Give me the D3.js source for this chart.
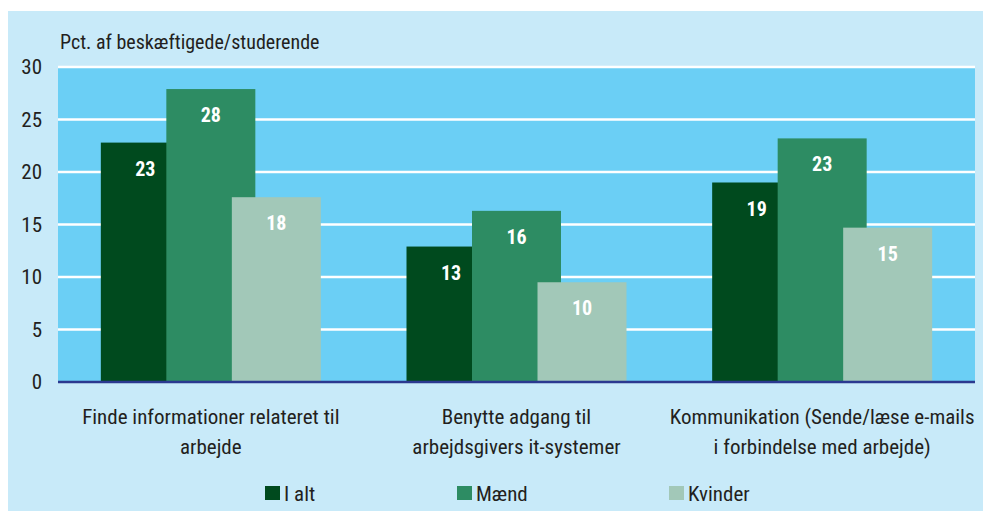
<!DOCTYPE html>
<html>
<head>
<meta charset="utf-8">
<script src="https://cdn.jsdelivr.net/npm/d3@7"></script>
<style>
  body { margin: 0; background: #fff; }
  text { font-family: "Liberation Sans Narrow", "Roboto Condensed", "Liberation Sans", sans-serif; fill: #231f20; }
</style>
</head>
<body>
<script>
// data
const categories = [
  ['Finde informationer relateret til', 'arbejde'],
  ['Benytte adgang til', 'arbejdsgivers it-systemer'],
  ['Kommunikation (Sende/læse e-mails', 'i forbindelse med arbejde)']
];
const seriesNames = ['I alt', 'Mænd', 'Kvinder'];
const iAlt = [22.8, 12.9, 19.0];
const maend = [27.9, 16.3, 23.2];
const kvinder = [17.6, 9.5, 14.7];
const labels = [[23, 28, 18], [13, 16, 10], [19, 23, 15]];
const yTicks = [0, 5, 10, 15, 20, 25, 30];
const colors = ['#004a1e', '#2d8c63', '#a2c8b8'];

const width = 983, height = 511;
const plot = {left: 58, right: 975, top: 67, bottom: 382};

const svg = d3.select('body').append('svg')
  .attr('width', width)
  .attr('height', height);

// panel backgrounds
svg.append('rect').attr('x', 8).attr('y', 11).attr('width', width - 8).attr('height', height - 11)
  .attr('fill', '#c8eaf9');
svg.append('rect').attr('x', plot.left).attr('y', plot.top)
  .attr('width', plot.right - plot.left).attr('height', plot.bottom - plot.top)
  .attr('fill', '#6bcff5');

const x = d3.scaleBand().domain(d3.range(categories.length))
  .range([plot.left, plot.right]);
const y = d3.scaleLinear().domain([0, 30]).range([plot.bottom, plot.top]);

// grid
svg.append('g').selectAll('line').data(yTicks.filter(d => d > 0)).enter().append('line')
  .attr('x1', plot.left).attr('x2', plot.right)
  .attr('y1', d => y(d)).attr('y2', d => y(d))
  .attr('stroke', '#fff').attr('stroke-width', 2.5);

// y tick labels
svg.append('g').selectAll('text').data(yTicks).enter().append('text')
  .attr('x', 42).attr('y', d => y(d) + 7)
  .attr('text-anchor', 'end')
  .style('font-size', '21px')
  .text(d => d);

svg.append('text').attr('x', 60).attr('y', 49)
  .style('font-size', '20px')
  .text('Pct. af beskæftigede/studerende');

// bars (overlapping, each series shifted by a step)
const barW = 89, step = 65.5;
const series = [iAlt, maend, kvinder];
series.forEach((vals, s) => {
  const g = svg.append('g');
  g.selectAll('rect').data(vals).enter().append('rect')
    .attr('x', (d, i) => x(i) + x.bandwidth() / 2 - 110 + s * step)
    .attr('y', d => y(d))
    .attr('width', barW)
    .attr('height', d => y(0) - y(d))
    .attr('fill', colors[s]);
  g.selectAll('text').data(vals).enter().append('text')
    .attr('x', (d, i) => x(i) + x.bandwidth() / 2 - 110 + s * step + barW / 2)
    .attr('y', d => y(d) + 33)
    .attr('text-anchor', 'middle')
    .style('font-size', '20px')
    .style('font-weight', 'bold')
    .style('fill', '#fff')
    .text((d, i) => labels[i][s]);
});

// baseline
svg.append('line').attr('x1', plot.left).attr('x2', plot.right)
  .attr('y1', y(0)).attr('y2', y(0))
  .attr('stroke', '#2b3990').attr('stroke-width', 2.5);

// category labels
categories.forEach((lines, i) => {
  lines.forEach((t, j) => {
    svg.append('text')
      .attr('x', x(i) + x.bandwidth() / 2)
      .attr('y', 424 + j * 30)
      .attr('text-anchor', 'middle')
      .style('font-size', '21px')
      .text(t);
  });
});

// legend
const legendX = [265, 457, 669];
seriesNames.forEach((n, i) => {
  svg.append('rect').attr('x', legendX[i]).attr('y', 486)
    .attr('width', 15).attr('height', 14).attr('fill', colors[i]);
  svg.append('text').attr('x', legendX[i] + 19).attr('y', 501)
    .style('font-size', '21px')
    .text(n);
});
</script>
</body>
</html>
